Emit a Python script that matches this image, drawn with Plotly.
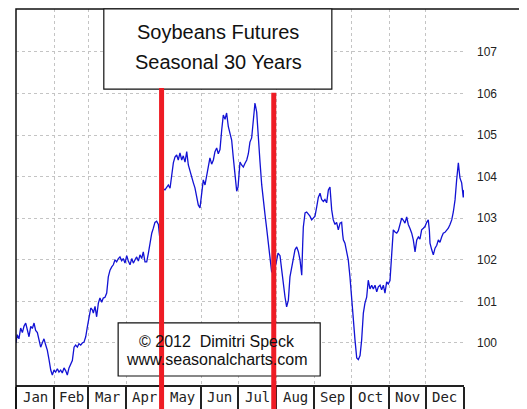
import numpy as np
import plotly.graph_objects as go

# seasonal pattern, day of year -> index (start of year = 100)
days = [0.0, 1.0, 2.4, 3.8, 5.2, 6.5, 7.9, 9.2, 10.6, 12.0, 13.3, 14.7, 16.0, 17.4, 18.7, 20.1,
        21.4, 22.8, 24.2, 25.5, 26.9, 28.3, 29.6, 31.0, 32.3, 33.7, 35.0, 36.4, 37.7, 39.1, 40.5,
        41.8, 43.2, 44.6, 45.9, 47.3, 48.6, 50.0, 51.3, 52.7, 54.0, 55.4, 56.8, 58.1, 59.5, 60.9,
        62.2, 63.0, 64.4, 65.7, 67.1, 68.4, 69.8, 71.1, 72.5, 73.9, 75.2, 76.6, 78.0, 79.3, 80.7,
        82.0, 83.4, 84.7, 86.1, 87.4, 88.8, 90.2, 91.5, 92.9, 94.3, 95.6, 97.0, 98.3, 99.7, 101.0,
        102.4, 103.7, 105.1, 106.5, 107.8, 109.2, 110.6, 111.9, 113.2, 114.6, 116.0, 117.3, 118.3,
        119.3, 120.5, 121.4, 122.8, 124.1, 125.5, 126.8, 128.2, 129.5, 130.9, 132.2, 133.6, 135.0,
        136.3, 137.7, 139.1, 140.4, 141.8, 143.2, 144.5, 145.8, 147.2, 148.5, 149.9, 151.3, 152.6,
        154.0, 155.4, 156.7, 158.0, 159.4, 160.8, 162.1, 163.5, 164.8, 166.2, 167.6, 168.9, 170.3,
        171.6, 173.0, 174.3, 175.7, 177.0, 178.4, 179.8, 180.9, 181.5, 182.5, 183.8, 185.2, 186.6,
        188.0, 189.3, 190.6, 192.0, 192.8, 193.4, 194.7, 196.1, 197.4, 198.8, 200.2, 201.5, 202.9,
        204.2, 205.6, 206.9, 208.3, 210.2, 211.8, 213.5, 215.1, 216.5, 217.8, 219.2, 220.5, 221.9,
        223.2, 224.6, 225.9, 227.3, 228.7, 230.0, 231.4, 232.8, 233.6, 234.1, 235.5, 236.8, 238.2,
        239.5, 240.9, 242.2, 243.6, 245.0, 246.3, 247.7, 249.0, 250.4, 251.7, 253.1, 254.5, 255.8,
        257.2, 258.5, 259.9, 261.2, 262.6, 264.0, 265.3, 266.2, 266.7, 268.0, 269.4, 270.7, 272.1,
        273.5, 274.8, 276.2, 277.6, 278.9, 280.3, 281.6, 283.0, 284.3, 285.7, 287.0, 288.4, 289.8,
        291.1, 292.5, 293.9, 295.2, 296.6, 297.9, 299.3, 300.6, 302.0, 303.3, 304.7, 306.1, 307.4,
        308.8, 310.2, 311.5, 312.8, 314.2, 315.6, 316.9, 318.3, 319.6, 321.0, 322.4, 323.7, 325.1,
        326.5, 327.8, 329.1, 330.5, 331.9, 333.2, 334.6, 335.9, 336.8, 337.3, 338.7, 340.0, 341.4,
        342.8, 344.1, 345.4, 346.8, 348.1, 349.5, 350.9, 352.2, 353.6, 355.0, 356.3, 357.7, 359.0,
        359.9, 360.4, 361.2, 361.7, 363.1, 364.4, 365.0]

values = [100.0, 100.2, 100.1, 100.36, 100.25, 100.4, 100.48, 100.3, 100.15, 100.4, 100.35, 100.48,
          100.3, 100.25, 100.07, 99.9, 100.0, 100.1, 99.95, 99.83, 99.6, 99.35, 99.23, 99.35, 99.3,
          99.38, 99.3, 99.35, 99.28, 99.4, 99.33, 99.23, 99.4, 99.52, 99.58, 99.9, 99.95, 99.9,
          99.98, 99.95, 100.0, 100.02, 100.15, 100.38, 100.63, 100.84, 100.8, 100.72, 100.88,
          100.63, 100.96, 101.08, 100.98, 101.08, 101.1, 101.2, 101.59, 101.75, 101.83, 101.88,
          102.0, 101.95, 102.03, 102.07, 101.98, 102.03, 101.92, 102.1, 101.97, 101.88, 102.03,
          101.92, 102.0, 102.07, 101.97, 102.12, 102.03, 102.19, 101.95, 101.95, 102.15, 102.4,
          102.64, 102.76, 102.9, 102.93, 102.85, 102.48, 102.3, 103.6, 103.7, 103.68, 103.75, 103.8,
          103.72, 103.99, 104.33, 104.47, 104.52, 104.4, 104.57, 104.4, 104.5, 104.35, 104.6,
          104.28, 104.11, 103.99, 103.85, 103.73, 103.5, 103.32, 103.25, 103.6, 103.92, 103.8,
          104.04, 104.28, 104.45, 104.3, 104.4, 104.6, 104.69, 104.55, 104.65, 105.12, 105.48,
          105.38, 105.53, 105.2, 105.05, 104.88, 104.47, 104.0, 103.65, 103.75, 104.1, 104.35,
          104.28, 104.23, 104.32, 104.4, 104.55, 104.83, 104.93, 105.17, 105.48, 105.77, 105.55,
          105.07, 104.35, 103.8, 103.39, 103.08, 102.76, 102.43, 102.04, 101.7, 101.75, 101.9,
          102.16, 102.1, 101.75, 101.35, 101.1, 100.87, 101.03, 101.59, 101.83, 102.07, 102.24,
          102.31, 102.2, 102.0, 101.63, 102.4, 102.79, 103.13, 103.15, 103.1, 103.05, 102.96, 103.0,
          103.05, 103.27, 103.5, 103.6, 103.45, 103.4, 103.45, 103.37, 103.68, 103.75, 103.2,
          102.96, 102.85, 102.9, 102.72, 102.88, 102.9, 102.6, 102.48, 102.4, 102.16, 102.0,
          101.59, 101.03, 100.55, 100.07, 99.64, 99.6, 99.7, 100.07, 100.72, 100.96, 101.1, 101.51,
          101.3, 101.39, 101.3, 101.39, 101.23, 101.35, 101.39, 101.28, 101.39, 101.2, 101.47,
          101.42, 101.5, 102.24, 102.72, 102.67, 102.64, 102.7, 102.88, 103.0, 102.95, 102.88,
          103.03, 102.85, 102.75, 102.64, 102.48, 102.19, 102.48, 102.55, 102.5, 102.72, 102.76,
          102.8, 102.9, 102.96, 102.7, 102.4, 102.24, 102.12, 102.28, 102.35, 102.48, 102.42,
          102.55, 102.64, 102.66, 102.7, 102.76, 102.85, 102.96, 103.15, 103.44, 103.92, 104.16,
          104.33, 104.1, 103.97, 103.85, 103.5, 103.68]

months = ['Jan', 'Feb', 'Mar', 'Apr', 'May', 'Jun', 'Jul', 'Aug', 'Sep', 'Oct', 'Nov', 'Dec']
month_days = [31, 28, 31, 30, 31, 30, 31, 31, 30, 31, 30, 31]
y_ticks = [100, 101, 102, 103, 104, 105, 106, 107]
window_days = [118.6, 210.0]   # best seasonal window, Apr 29 - Jul 29

month_starts = np.concatenate([[0], np.cumsum(month_days)])
month_mids = (month_starts[:-1] + month_starts[1:]) / 2

fig = go.Figure()
fig.add_trace(go.Scatter(x=days, y=values, mode='lines',
                         line=dict(color='#1212d4', width=1.3),
                         showlegend=False, hoverinfo='skip'))

shapes = []
# outer frame
shapes.append(dict(type='rect', xref='paper', yref='paper', x0=0, x1=1.127, y0=-0.2, y1=1,
                   line=dict(color='#111', width=1.5), layer='above'))
# title box
shapes.append(dict(type='rect', xref='paper', yref='paper', x0=0.196, x1=0.705, y0=0.787, y1=1,
                   fillcolor='white', line=dict(color='#111', width=1.2), layer='above'))
# copyright box
shapes.append(dict(type='rect', xref='paper', yref='paper', x0=0.228, x1=0.679, y0=0.024, y1=0.165,
                   fillcolor='white', line=dict(color='#111', width=1.2), layer='above'))
# red window lines
for d, top in zip(window_days, [0.79, 0.777]):
    shapes.append(dict(type='line', xref='x', yref='paper', x0=d, x1=d, y0=-0.2, y1=top,
                       line=dict(color='#ee1c24', width=5), layer='above'))

annotations = []
for m, xm in zip(months, month_mids):
    annotations.append(dict(x=xm, y=-0.032, xref='x', yref='paper', text=m, showarrow=False,
                            yanchor='middle',
                            font=dict(family='DejaVu Sans Mono', size=14, color='#222')))
box_font = dict(family='Liberation Sans, Arial', size=20, color='#111')
annotations.append(dict(x=0.451, y=0.939, xref='paper', yref='paper', text='Soybeans Futures',
                        showarrow=False, yanchor='middle', font=box_font))
annotations.append(dict(x=0.451, y=0.859, xref='paper', yref='paper', text='Seasonal 30 Years',
                        showarrow=False, yanchor='middle', font=box_font))
credit_font = dict(family='Liberation Sans, Arial', size=16, color='#111')
annotations.append(dict(x=0.448, y=0.117, xref='paper', yref='paper', text='©&nbsp;2012&nbsp;&nbsp;Dimitri Speck',
                        showarrow=False, yanchor='middle', font=credit_font))
annotations.append(dict(x=0.448, y=0.069, xref='paper', yref='paper', text='www.seasonalcharts.com',
                        showarrow=False, yanchor='middle', font=credit_font))

# page body adds an 8px margin, so the figure is sized and offset to land on the same pixels
fig.update_layout(
    width=519, height=401,
    margin=dict(l=8, r=63, t=1, b=24),
    paper_bgcolor='white', plot_bgcolor='white',
    xaxis=dict(range=[0, 365], tickvals=month_starts, showticklabels=False, automargin=False,
               showgrid=True, gridcolor='#c4c4c4', griddash='dot', gridwidth=1,
               ticks='outside', ticklen=30, tickcolor='#222', tickwidth=1.5,
               showline=True, linecolor='#222', linewidth=2, zeroline=False),
    yaxis=dict(range=[98.99, 108.03], side='right', tickvals=y_ticks, automargin=False,
               showgrid=True, gridcolor='#c4c4c4', griddash='dot', gridwidth=1,
               ticks='', ticklabelstandoff=12, zeroline=False,
               tickfont=dict(family='Liberation Sans Narrow, Arial Narrow, Liberation Sans', size=12, color='#222')),
    shapes=shapes,
    annotations=annotations,
)

fig.write_html("out.html")
